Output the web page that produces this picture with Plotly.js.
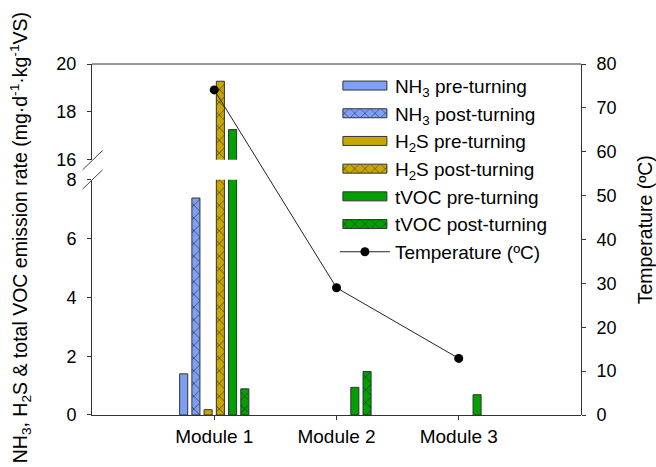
<!DOCTYPE html>
<html>
<head>
<meta charset="utf-8">
<script src="https://cdn.plot.ly/plotly-3.0.1.min.js"></script>
<style>
html,body{margin:0;padding:0;background:#fff;}
#chart{width:656px;height:467px;}
</style>
</head>
<body>
<div id="chart"></div>
<script>
// ---- data ----
var categories = ['Module 1', 'Module 2', 'Module 3'];
var nh3Pre   = [1.40, null, null];
var nh3Post  = [7.38, null, null];
var h2sPre   = [0.18, null, null];
var h2sPost  = [19.28, null, null];
var tvocPre  = [17.26, 0.94, 0.69];
var tvocPost = [0.89, 1.48, null];
var temperature = [74.1, 29.0, 12.9];

var seriesNames = [
  'NH<sub>3</sub> pre-turning',
  'NH<sub>3</sub> post-turning',
  'H<sub>2</sub>S pre-turning',
  'H<sub>2</sub>S post-turning',
  'tVOC pre-turning',
  'tVOC post-turning'
];
var seriesValues = [nh3Pre, nh3Post, h2sPre, h2sPost, tvocPre, tvocPost];
var tempName = 'Temperature (ºC)';
var leftTitle = 'NH<sub>3</sub>, H<sub>2</sub>S & total VOC emission rate (mg·d<sup>-1</sup>·kg<sup>-1</sup>VS)';

// ---- styles ----
var BLUE = '#7DA0F4', GOLD = '#C8A800', GREEN = '#00A000';
var colors = [BLUE, BLUE, GOLD, GOLD, GREEN, GREEN];
var hatched = [false, true, false, true, false, true];
var FONT = 'Liberation Sans, Arial, sans-serif';

var traces = [];
function barTrace(i, yaxis, showlegend) {
  var m = {color: colors[i], line: {color: '#333', width: 1}};
  if (hatched[i]) {
    m.pattern = {shape: 'x', size: 9, solidity: 0.12, fgcolor: '#1a1a1a', bgcolor: colors[i], fillmode: 'replace'};
  }
  return {
    type: 'bar', x: categories, y: seriesValues[i], name: seriesNames[i],
    xaxis: 'x', yaxis: yaxis, marker: m, showlegend: showlegend,
    legendgroup: 'g' + i, hoverinfo: 'skip'
  };
}
for (var i = 0; i < 6; i++) traces.push(barTrace(i, 'y', true));
for (var j = 0; j < 6; j++) traces.push(barTrace(j, 'y2', false));
traces.push({
  type: 'scatter', mode: 'lines+markers', x: categories, y: temperature,
  name: tempName, xaxis: 'x', yaxis: 'y3', legendgroup: 'gt',
  line: {color: '#222', width: 1}, marker: {color: '#000', size: 9}
});

// plot geometry in px
var L = 91.7, R = 581.5, T = 64.3, B = 415;
var W = R - L, H = B - T;
function px(xp) { return (xp - L) / W; }
function py(yp) { return (B - yp) / H; }

var axLine = {showline: true, linecolor: '#333', linewidth: 1, ticks: 'outside', ticklen: 4,
  tickcolor: '#333', showgrid: false, zeroline: false, tickfont: {family: FONT, size: 18, color: '#000'}};

var layout = {
  width: 656, height: 467,
  margin: {l: L, r: 656 - R, t: T, b: 467 - B, pad: 0},
  paper_bgcolor: '#fff', plot_bgcolor: 'rgba(0,0,0,0)',
  font: {family: FONT, size: 19, color: '#000'},
  barmode: 'group', bargap: 0.40, bargroupgap: 0.34,
  showlegend: true,
  legend: {x: px(335), y: py(67), xanchor: 'left', yanchor: 'top', bgcolor: 'rgba(0,0,0,0)',
    font: {family: FONT, size: 19}, itemwidth: 50, tracegroupgap: 1.5, traceorder: 'normal'},
  xaxis: Object.assign({}, axLine, {anchor: 'y', domain: [0, 1], type: 'category', range: [-1, 3],
    tickfont: {family: FONT, size: 19, color: '#000'}}),
  yaxis: Object.assign({}, axLine, {anchor: 'x', domain: [0, py(180)], range: [0, 8], dtick: 2, tick0: 0,
    ticklabelstandoff: 7}),
  yaxis2: Object.assign({}, axLine, {anchor: 'x', domain: [py(160), 1], range: [16, 20], dtick: 2, tick0: 16,
    ticklabelstandoff: 7}),
  yaxis3: Object.assign({}, axLine, {anchor: 'x', side: 'right', domain: [0, 1], range: [0, 80], dtick: 10,
    ticklabelstandoff: 7}),
  shapes: [
    {type: 'line', xref: 'paper', yref: 'paper', x0: 0, x1: 1, y0: 1, y1: 1, line: {color: '#333', width: 1}},
    {type: 'line', xref: 'paper', yref: 'paper', x0: px(82.3), x1: px(102.3), y0: py(170), y1: py(150.7), line: {color: '#444', width: 1}},
    {type: 'line', xref: 'paper', yref: 'paper', x0: px(82.3), x1: px(102.3), y0: py(189.3), y1: py(170), line: {color: '#444', width: 1}}
  ],
  annotations: [
    {text: leftTitle, xref: 'paper', yref: 'paper', x: px(20), y: py(238), textangle: -90,
      showarrow: false, xanchor: 'center', yanchor: 'middle', font: {family: FONT, size: 19.5, color: '#000'}},
    {text: tempName, xref: 'paper', yref: 'paper', x: px(645), y: py(230), textangle: -90,
      showarrow: false, xanchor: 'center', yanchor: 'middle', font: {family: FONT, size: 19.5, color: '#000'}}
  ]
};

Plotly.newPlot('chart', traces, layout, {staticPlot: true, displayModeBar: false}).then(function (gd) {
  // widen the bar legend swatches to match the reference's wide rectangles
  var pts = gd.querySelectorAll('.legend .legendpoints path');
  pts.forEach(function (p) {
    var d = p.getAttribute('d') || '';
    if (d.indexOf('M6,6H-6V-6H6Z') === 0) p.setAttribute('d', 'M22,4.5H-22V-4.5H22Z');
  });
});
</script>
</body>
</html>
